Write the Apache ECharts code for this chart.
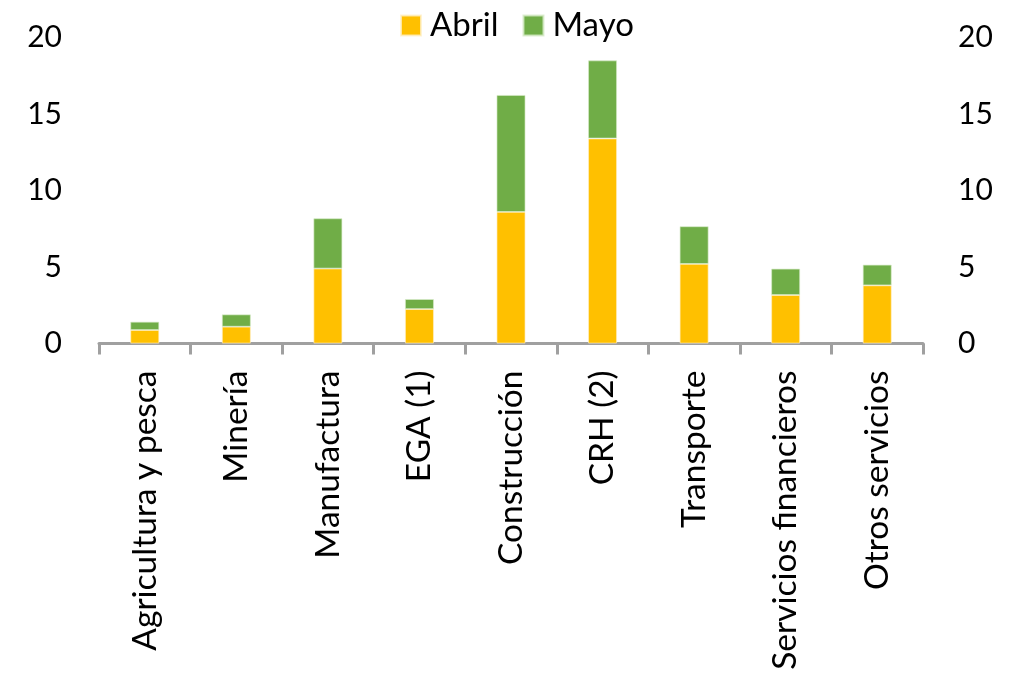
<!DOCTYPE html>
<html>
<head>
<meta charset="utf-8">
<script src="https://cdn.jsdelivr.net/npm/echarts@6/dist/echarts.min.js"></script>
<style>
  html, body { margin: 0; padding: 0; background: #fff; }
  #chart { width: 1014px; height: 676px; }
</style>
</head>
<body>
<div id="chart"></div>
<script>
// Sectores
const categories = [
  'Agricultura y pesca', 'Minería', 'Manufactura', 'EGA (1)', 'Construcción',
  'CRH (2)', 'Transporte', 'Servicios financieros', 'Otros servicios'
];
// Contribución de abril
const abril = [0.88, 1.1, 4.9, 2.25, 8.6, 13.4, 5.2, 3.17, 3.8];
// Contribución adicional de mayo
const mayo = [0.54, 0.8, 3.28, 0.65, 7.64, 5.1, 2.46, 1.72, 1.35];
// Marcas del eje vertical
const yTicks = { min: 0, max: 20, interval: 5 };

const FONT = 'Lato';
const chart = echarts.init(document.getElementById('chart'), null, { renderer: 'canvas' });

const valueAxis = (pos, margin) => ({
  type: 'value',
  position: pos,
  min: yTicks.min,
  max: yTicks.max,
  interval: yTicks.interval,
  axisLine: { show: false },
  axisTick: { show: false },
  splitLine: { show: false },
  axisLabel: { color: '#000', fontFamily: FONT, fontSize: 30, margin: margin }
});

chart.setOption({
  animation: false,
  backgroundColor: '#fff',
  textStyle: { fontFamily: FONT },
  legend: {
    top: 4,
    left: 395,
    itemWidth: 20,
    itemHeight: 20,
    itemGap: 24,
    icon: 'rect',
    textStyle: { color: '#000', fontFamily: FONT, fontSize: 33, padding: [0, 0, 0, 4] },
    data: ['Abril', 'Mayo']
  },
  grid: { left: 99, right: 91, top: 37.5, bottom: 332.5, containLabel: false },
  xAxis: {
    type: 'category',
    data: categories,
    boundaryGap: true,
    axisLine: { show: true, lineStyle: { color: '#A0A0A0', width: 3 } },
    axisTick: { show: true, length: 11, alignWithLabel: false, lineStyle: { color: '#A0A0A0', width: 3 } },
    axisLabel: { rotate: 90, color: '#000', fontFamily: FONT, fontSize: 33.5, margin: 27, interval: 0 }
  },
  yAxis: [valueAxis('left', 37), valueAxis('right', 35)],
  series: [
    {
      name: 'Abril', type: 'bar', stack: 'total', data: abril,
      barWidth: '31.5%',
      itemStyle: { color: '#FFC000', borderColor: 'rgba(255,240,200,0.8)', borderWidth: 0.8 }
    },
    {
      name: 'Mayo', type: 'bar', stack: 'total', data: mayo,
      barWidth: '31.5%',
      itemStyle: { color: '#70AD47', borderColor: 'rgba(215,235,200,0.8)', borderWidth: 0.8 }
    }
  ]
});
</script>
</body>
</html>
